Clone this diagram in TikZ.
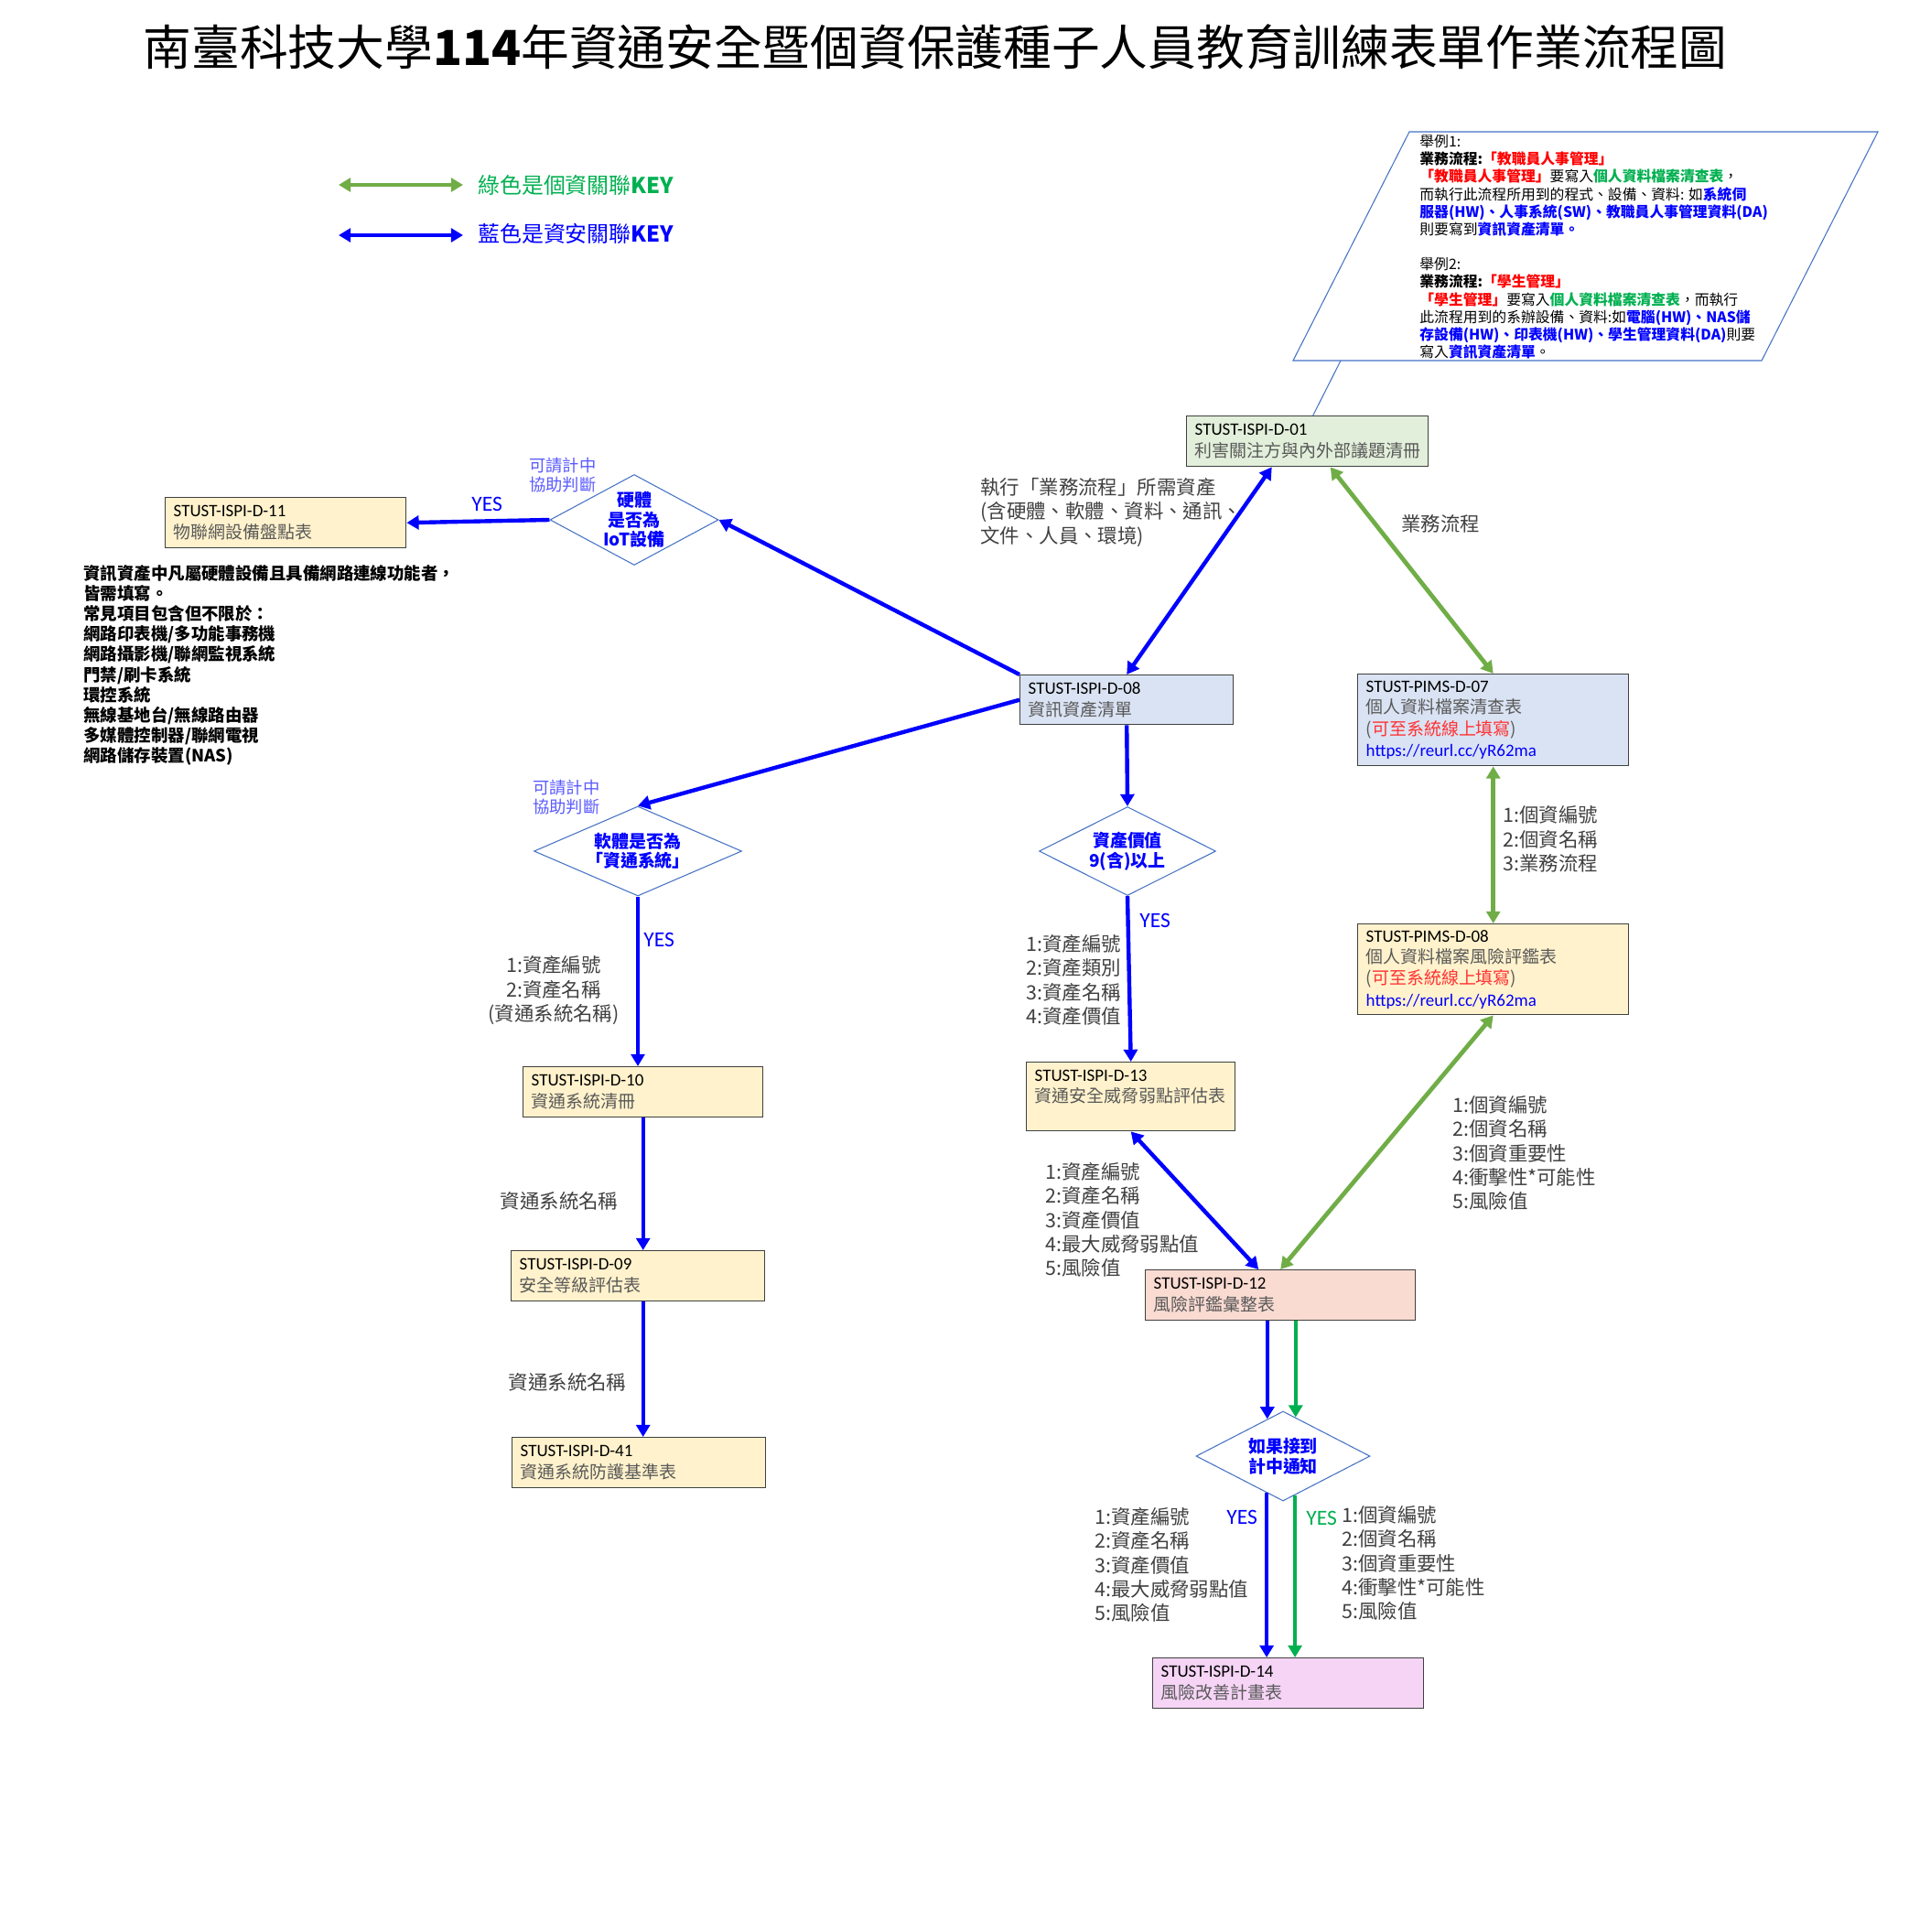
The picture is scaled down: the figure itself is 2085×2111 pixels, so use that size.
\documentclass[tikz,border=0pt]{standalone}
\usepackage{fontspec}
\setmainfont{Carlito}
\newfontfamily\cjk{Noto Sans CJK TC}
\usetikzlibrary{shapes.geometric,arrows.meta,calc}
\definecolor{lineblue}{RGB}{68,114,196}
\definecolor{pgreen}{RGB}{112,173,71}
\definecolor{kgreen}{RGB}{0,176,80}
\definecolor{fillgreen}{RGB}{226,239,218}
\definecolor{fillblue}{RGB}{218,227,243}
\definecolor{fillyellow}{RGB}{255,242,204}
\definecolor{fillred}{RGB}{250,219,210}
\definecolor{fillpink}{RGB}{245,212,245}
\definecolor{txtgray}{RGB}{89,89,89}
\definecolor{hintblue}{RGB}{90,90,255}
\newcommand\boxsub[1]{{\cjk\color{txtgray}#1}}
\newcommand\rk[1]{{\bfseries\color{red}#1}}
\newcommand\gk[1]{{\bfseries\color{kgreen}#1}}
\newcommand\bk[1]{{\bfseries\color{blue}#1}}

\begin{document}
\begin{tikzpicture}[x=0.02cm, y=-0.02cm, >={Triangle[length=7.5pt,width=8.5pt]},
  box/.style 2 args={draw=black!75, line width=0.8pt, anchor=north west, minimum width=#1*0.02cm, minimum height=#2*0.02cm, text width=(#1-18)*0.02cm, inner xsep=0.18cm, inner ysep=0pt, align=left, font=\fontsize{10.8}{13.3}\selectfont},
  ask/.style={diamond, draw=lineblue, line width=0.6pt, aspect=2, inner sep=0pt, align=center, text=blue, font=\cjk\bfseries\fontsize{10.8}{12.2}\selectfont},
  lbl/.style={align=left, text=black!75, inner sep=0pt, font=\cjk\fontsize{12.2}{15}\selectfont},
  hint/.style={anchor=west, align=left, text=hintblue, inner sep=0pt, font=\cjk\fontsize{10.4}{12.2}\selectfont},
  yes/.style={anchor=west, inner sep=0pt, text=blue, font=\fontsize{13.4}{16}\selectfont},
  blu/.style={draw=blue, line width=2.5pt},
  grn/.style={draw=pgreen, line width=2.7pt},
  gr2/.style={draw=kgreen, line width=2.5pt}]
\useasboundingbox (0,0) rectangle (2085,2111);

\node[inner sep=0pt, font=\cjk\fontsize{30}{36}\selectfont] (title) at (1022,51) {南臺科技大學{\bfseries 114}年資通安全暨個資保護種子人員教育訓練表單作業流程圖};

\coordinate (lg1) at (370,202);
\coordinate (lg2) at (506,202);
\coordinate (lg3) at (370,257);
\coordinate (lg4) at (506,257);
\draw[grn,<->] (lg1) -- (lg2);
\draw[blu,<->,line width=2.8pt] (lg3) -- (lg4);
\node[anchor=west, inner sep=0pt, text=kgreen, font=\cjk\fontsize{13.6}{16}\selectfont] (lgA) at (522,202) {綠色是個資關聯{\bfseries KEY}};
\node[anchor=west, inner sep=0pt, text=blue, font=\cjk\fontsize{13.6}{16}\selectfont] (lgB) at (522,255) {藍色是資安關聯{\bfseries KEY}};

\draw[lineblue, line width=0.6pt] (1540,144) -- (2052,144) -- (1925,394) -- (1413,394) -- cycle;
\node[anchor=north west, inner sep=0pt, align=left, font=\cjk\fontsize{9}{10.9}\selectfont] (ex) at (1551,147) {舉例1:\\
{\bfseries 業務流程:}\rk{「教職員人事管理」}\\
\rk{「教職員人事管理」}要寫入\gk{個人資料檔案清查表}，\\
而執行此流程所用到的程式、設備、資料: 如\bk{系統伺}\\
\bk{服器(HW)、人事系統(SW)、教職員人事管理資料(DA)}\\
則要寫到\bk{資訊資產清單。}\\[10.9pt]
舉例2:\\
{\bfseries 業務流程:}\rk{「學生管理」}\\
\rk{「學生管理」}要寫入\gk{個人資料檔案清查表}，而執行\\
此流程用到的系辦設備、資料:如\bk{電腦(HW)、NAS儲}\\
\bk{存設備(HW)、印表機(HW)、學生管理資料(DA)}則要\\
寫入\bk{資訊資產清單}。};
\coordinate (exb) at (1465,394);

\node[box={264}{55}, fill=fillgreen] (d01) at (1296,454) {STUST-ISPI-D-01\\\boxsub{利害關注方與內外部議題清冊}};
\node[box={233}{54}, fill=fillblue] (d08) at (1114,737) {STUST-ISPI-D-08\\\boxsub{資訊資產清單}};
\node[box={296}{100}, fill=fillblue] (p07) at (1483,736) {STUST-PIMS-D-07\\\boxsub{個人資料檔案清查表}\\\boxsub{(}{\cjk\color{red!80}可至系統線上填寫}\boxsub{)}\\{\color{blue}https://reurl.cc/yR62ma}};
\node[box={296}{99}, fill=fillyellow] (p08) at (1483,1009) {STUST-PIMS-D-08\\\boxsub{個人資料檔案風險評鑑表}\\\boxsub{(}{\cjk\color{red!80}可至系統線上填寫}\boxsub{)}\\{\color{blue}https://reurl.cc/yR62ma}};
\node[box={263}{55}, fill=fillyellow] (d11) at (180,543) {STUST-ISPI-D-11\\\boxsub{物聯網設備盤點表}};
\node[box={262}{55}, fill=fillyellow] (d10) at (571,1165) {STUST-ISPI-D-10\\\boxsub{資通系統清冊}};
\node[box={277}{55}, fill=fillyellow] (d09) at (558,1366) {STUST-ISPI-D-09\\\boxsub{安全等級評估表}};
\node[box={277}{55}, fill=fillyellow] (d41) at (559,1570) {STUST-ISPI-D-41\\\boxsub{資通系統防護基準表}};
\node[box={228}{75}, fill=fillyellow] (d13) at (1121,1160) {STUST-ISPI-D-13\\\boxsub{資通安全威脅弱點評估表}\\\mbox{}};
\node[box={295}{55}, fill=fillred] (d12) at (1251,1387) {STUST-ISPI-D-12\\\boxsub{風險評鑑彙整表}};
\node[box={296}{55}, fill=fillpink] (d14) at (1259,1811) {STUST-ISPI-D-14\\\boxsub{風險改善計畫表}};

\node[ask, aspect=1.8, minimum width=184*0.02cm, minimum height=99*0.02cm] (iot) at (693,568) {硬體\\是否為\\IoT設備};
\node[ask, minimum width=227*0.02cm, minimum height=98*0.02cm] (soft) at (697,930) {軟體是否為\\「資通系統」};
\node[ask, minimum width=193*0.02cm, minimum height=97*0.02cm] (value) at (1232,930) {資產價值\\9(含)以上};
\node[ask, minimum width=190*0.02cm, minimum height=98*0.02cm] (notify) at (1402,1591) {如果接到\\計中通知};

\draw[lineblue, line width=0.6pt] (exb) -- ($(d01.north)+(6,0)$);

\node[anchor=north west, inner sep=0pt, align=left, font=\cjk\bfseries\fontsize{10.5}{12.6}\selectfont] (iotnote) at (91,617) {資訊資產中凡屬硬體設備且具備網路連線功能者，\\皆需填寫。\\常見項目包含但不限於：\\網路印表機/多功能事務機\\網路攝影機/聯網監視系統\\門禁/刷卡系統\\環控系統\\無線基地台/無線路由器\\多媒體控制器/聯網電視\\網路儲存裝置(NAS)};

\node[hint] (hintA) at (578,519) {可請計中\\協助判斷};
\node[hint] (hintB) at (582,871) {可請計中\\協助判斷};

\node[yes] (yesA) at (515,551) {YES};
\node[yes] (yesB) at (703,1027) {YES};
\node[yes] (yesC) at (1245,1006) {YES};
\node[yes] (yesD) at (1340,1658) {YES};
\node[yes, text=kgreen] (yesE) at (1427,1659) {YES};

\node[lbl, anchor=west] (needs) at (1071,560) {執行「業務流程」所需資產\\(含硬體、軟體、資料、通訊、\\文件、人員、環境)};
\node[lbl, anchor=west] (flow) at (1531,572) {業務流程};
\node[lbl, anchor=west] (pkey) at (1642,917) {1:個資編號\\2:個資名稱\\3:業務流程};
\node[lbl, align=center] (skey) at (605,1082) {1:資產編號\\2:資產名稱\\(資通系統名稱)};
\node[lbl, anchor=west] (vkey) at (1121,1071) {1:資產編號\\2:資產類別\\3:資產名稱\\4:資產價值};
\node[lbl, anchor=west] (tkey) at (1142,1333) {1:資產編號\\2:資產名稱\\3:資產價值\\4:最大威脅弱點值\\5:風險值};
\node[lbl, anchor=west] (rkey) at (1587,1260) {1:個資編號\\2:個資名稱\\3:個資重要性\\4:衝擊性*可能性\\5:風險值};
\node[lbl] (nameA) at (611,1312) {資通系統名稱};
\node[lbl] (nameB) at (620,1510) {資通系統名稱};
\node[lbl, anchor=west] (bkey) at (1196,1710) {1:資產編號\\2:資產名稱\\3:資產價值\\4:最大威脅弱點值\\5:風險值};
\node[lbl, anchor=west] (gkey) at (1466,1708) {1:個資編號\\2:個資名稱\\3:個資重要性\\4:衝擊性*可能性\\5:風險值};

\draw[blu,->] (d08.north west) -- (iot.east);
\draw[blu,->] (iot.west) -- (d11.east);
\draw[blu,->] (d08.west) -- (soft.north);
\draw[blu,->] (soft.south) -- (soft.south |- d10.north);
\draw[blu,->] (d10.south) -- (d10.south |- d09.north);
\draw[blu,->] (d10.south |- d09.south) -- (d10.south |- d41.north);
\draw[blu,->] (d08.south) -- (value.north);
\draw[blu,->] (value.south) -- (d13.north);
\draw[blu,<->] (d08.north) -- ($(d01.south)+(-39,0)$);
\draw[grn,<->] ($(d01.south)+(25,0)$) -- (p07.north);
\draw[grn,<->] (p07.south) -- (p08.north);
\draw[grn,<->] (p08.south) -- (d12.north);
\draw[blu,<->] (d13.south) -- ($(d12.north)+(-24,0)$);
\draw[blu,->] (notify.113 |- d12.south) -- (notify.113);
\draw[gr2,->] (notify.72 |- d12.south) -- (notify.72);
\draw[blu,->] (notify.246) -- (notify.246 |- d14.north);
\draw[gr2,->] (notify.287) -- (notify.287 |- d14.north);
\end{tikzpicture}
\end{document}
